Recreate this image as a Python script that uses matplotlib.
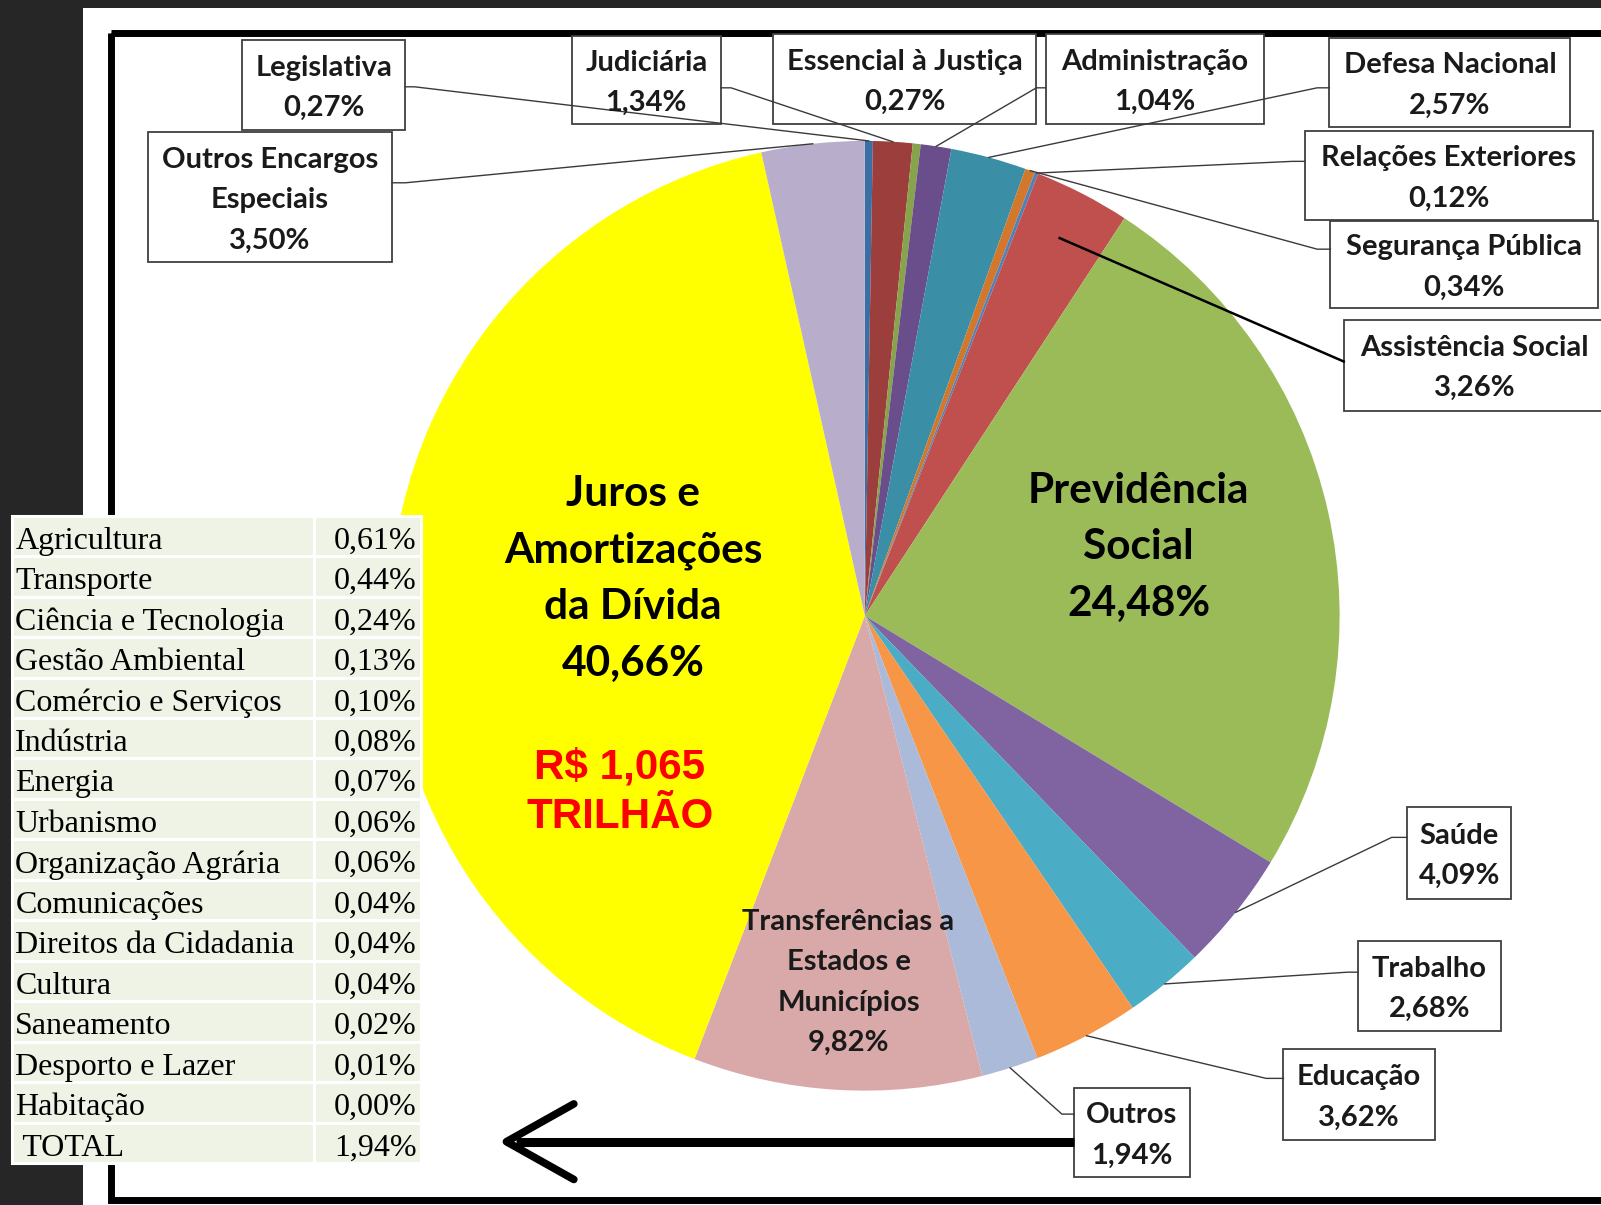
import matplotlib
matplotlib.use('Agg')
import matplotlib.pyplot as plt
from matplotlib.patches import Rectangle
import numpy as np


# Federal budget 2014 by function (% of R$ 1,065 trilhão)
areas = ['Legislativa', 'Judiciária', 'Essencial à Justiça', 'Administração',
         'Defesa Nacional', 'Segurança Pública', 'Relações Exteriores',
         'Assistência Social', 'Previdência Social', 'Saúde', 'Trabalho',
         'Educação', 'Outros', 'Transferências a Estados e Municípios',
         'Juros e Amortizações da Dívida', 'Outros Encargos Especiais']
shares = [0.27, 1.34, 0.27, 1.04, 2.57, 0.34, 0.12, 3.26, 24.48, 4.09, 2.68,
          3.62, 1.94, 9.82, 40.66, 3.50]
slice_colors = ['#3a6ea5', '#9b3e3c', '#87a44b', '#6a4e8c', '#3a8ea6',
                '#d2782d', '#4f81bd', '#c0504d', '#9bbb59', '#8064a2',
                '#4bacc6', '#f79646', '#aabad8', '#d9a9a9', '#ffff00',
                '#b8aecc']

# breakdown of "Outros"
other_areas = ['Agricultura', 'Transporte', 'Ciência e Tecnologia',
               'Gestão Ambiental', 'Comércio e Serviços', 'Indústria',
               'Energia', 'Urbanismo', 'Organização Agrária', 'Comunicações',
               'Direitos da Cidadania', 'Cultura', 'Saneamento',
               'Desporto e Lazer', 'Habitação']
other_shares = [0.61, 0.44, 0.24, 0.13, 0.10, 0.08, 0.07, 0.06, 0.06, 0.04,
                0.04, 0.04, 0.02, 0.01, 0.00]
other_total = 1.94

total_text = 'R$ 1,065\nTRILHÃO'


def pct(v):
    return '{:.2f}%'.format(v).replace('.', ',')


def draw_lines(ax, x, yc, text, spacing, **kw):
    lines = text.split('\n')
    n = len(lines)
    for i, s in enumerate(lines):
        ax.text(x, yc + (i - (n - 1) / 2.0) * spacing, s, ha='center',
                va='center', **kw)


W, H = 1568, 1180
fig = plt.figure(figsize=(16.01, 12.05), dpi=100)
fig.patch.set_facecolor('#262626')
ax = fig.add_axes([0, 0, 1, 1])

cx, cy, r = 847, 603, 465
wedges, _ = ax.pie(shares, colors=slice_colors, startangle=-90,
                   counterclock=True, center=(cx, cy), radius=r,
                   wedgeprops=dict(linewidth=0), frame=True)
for w in wedges:
    w.set_zorder(2)

ax.set_xlim(0, W)
ax.set_ylim(H, 0)
ax.set_aspect('auto')
ax.axis('off')

# page background + frame
ax.add_patch(Rectangle((81, 8), W, H, facecolor='white', edgecolor='none', zorder=0))
ax.add_patch(Rectangle((109, 32), 1500, 1143, facecolor='none',
                       edgecolor='black', linewidth=5, zorder=1))

# label boxes: (x0, y0, x1, y1), leader start, elbow, radius factor
boxes = {
    'Legislativa': ((237, 39, 397, 127), (397, 85), (406, 85), 1.0),
    'Judiciária': ((560, 35, 706, 121), (706, 86), (716, 86), 1.0),
    'Essencial à Justiça': ((757, 33, 1015, 121), None, None, 1.0),
    'Administração': ((1024, 33, 1238, 121), (1024, 86), (1015, 86), 1.0),
    'Defesa Nacional': ((1302, 37, 1538, 124), (1302, 86), (1290, 86), 1.0),
    'Relações Exteriores': ((1278, 128, 1560, 215), (1278, 158), (1266, 158), 1.0),
    'Segurança Pública': ((1303, 216, 1565, 302), (1303, 244), (1290, 244), 1.0),
    'Assistência Social': ((1316, 313, 1600, 402), (1316, 354), None, 0.895),
    'Saúde': ((1378, 790, 1480, 880), (1378, 820), (1363, 820), 1.0),
    'Trabalho': ((1330, 921, 1470, 1010), (1330, 952), (1320, 952), 1.0),
    'Educação': ((1257, 1027, 1405, 1116), (1257, 1056), (1240, 1056), 1.0),
    'Outros': ((1052, 1065, 1165, 1153), (1052, 1091), (1040, 1091), 1.0),
    'Outros Encargos Especiais': ((145, 129, 384, 257), (384, 179), (397, 179), 1.0),
}
box_text = {'Outros Encargos Especiais': 'Outros Encargos\nEspeciais'}

label_font = dict(family='Lato', fontweight='bold', fontsize=21, color='#1a1a1a')

for i, name in enumerate(areas):
    if name not in boxes:
        continue
    (x0, y0, x1, y1), start, elbow, rf = boxes[name]
    ax.add_patch(Rectangle((x0, y0), x1 - x0, y1 - y0, facecolor='white',
                           edgecolor='#3f3f3f', linewidth=1.3, zorder=3))
    txt = box_text.get(name, name) + '\n' + pct(shares[i])
    xc = (x0 + x1) / 2.0 if x1 < W else (x0 + 1572) / 2.0
    draw_lines(ax, xc, (y0 + y1) / 2.0 + 3, txt, 39.5, zorder=5, **label_font)
    if start is None:
        continue
    w = wedges[i]
    a = np.deg2rad((w.theta1 + w.theta2) / 2.0)
    px, py = cx + rf * r * np.cos(a), cy + rf * r * np.sin(a)
    xs = [start[0]] + ([elbow[0]] if elbow else []) + [px]
    ys = [start[1]] + ([elbow[1]] if elbow else []) + [py]
    if name == 'Assistência Social':
        ax.plot(xs, ys, color='black', linewidth=1.8, zorder=4)
    else:
        ax.plot(xs, ys, color='#3a3a3a', linewidth=1.0, zorder=4)

# labels inside the pie
big_font = dict(family='Lato', fontweight='bold', fontsize=30.5, color='black', zorder=5)
i_jur = areas.index('Juros e Amortizações da Dívida')
i_prev = areas.index('Previdência Social')
i_tr = areas.index('Transferências a Estados e Municípios')
draw_lines(ax, 620, 567, 'Juros e\nAmortizações\nda Dívida\n' + pct(shares[i_jur]),
           55.3, **big_font)
draw_lines(ax, 1115, 536, 'Previdência\nSocial\n' + pct(shares[i_prev]), 55.5, **big_font)
draw_lines(ax, 831, 962, 'Transferências a\nEstados e\nMunicípios\n' + pct(shares[i_tr]),
           39.6, zorder=5, **label_font)
draw_lines(ax, 607, 776, total_text, 48, family='Liberation Sans', fontweight='bold',
           fontsize=30.3, color='#ff0000', zorder=5)

# table with the "Outros" breakdown
t_left, t_mid, t_right, t_top, t_bot = 12, 308, 412, 505, 1139
rows = other_areas + [' TOTAL']
vals = other_shares + [other_total]
rh = (t_bot - t_top) / float(len(rows))
for k, (name, v) in enumerate(zip(rows, vals)):
    y0 = t_top + k * rh
    ax.add_patch(Rectangle((t_left, y0), t_mid - t_left, rh, facecolor='#eef3e6',
                           edgecolor='white', linewidth=2.2, zorder=6))
    ax.add_patch(Rectangle((t_mid, y0), t_right - t_mid, rh, facecolor='#eef3e6',
                           edgecolor='white', linewidth=2.2, zorder=6))
    ax.text(t_left + 3, y0 + rh / 2.0 + 5, name, ha='left', va='center',
            family='Liberation Serif', fontsize=23, color='black', zorder=7)
    ax.text(t_right - 4, y0 + rh / 2.0 + 5, pct(v), ha='right', va='center',
            family='Liberation Serif', fontsize=23, color='black', zorder=7)

# arrow from "Outros" to the table
ax.plot([1052, 505], [1118, 1118], color='black', linewidth=6.5,
        solid_capstyle='butt', zorder=4)
ax.plot([562, 496, 562], [1081, 1118, 1155], color='black', linewidth=5.5,
        solid_capstyle='round', solid_joinstyle='round', zorder=4)

fig.savefig('out.png', dpi=100, facecolor=fig.get_facecolor())
